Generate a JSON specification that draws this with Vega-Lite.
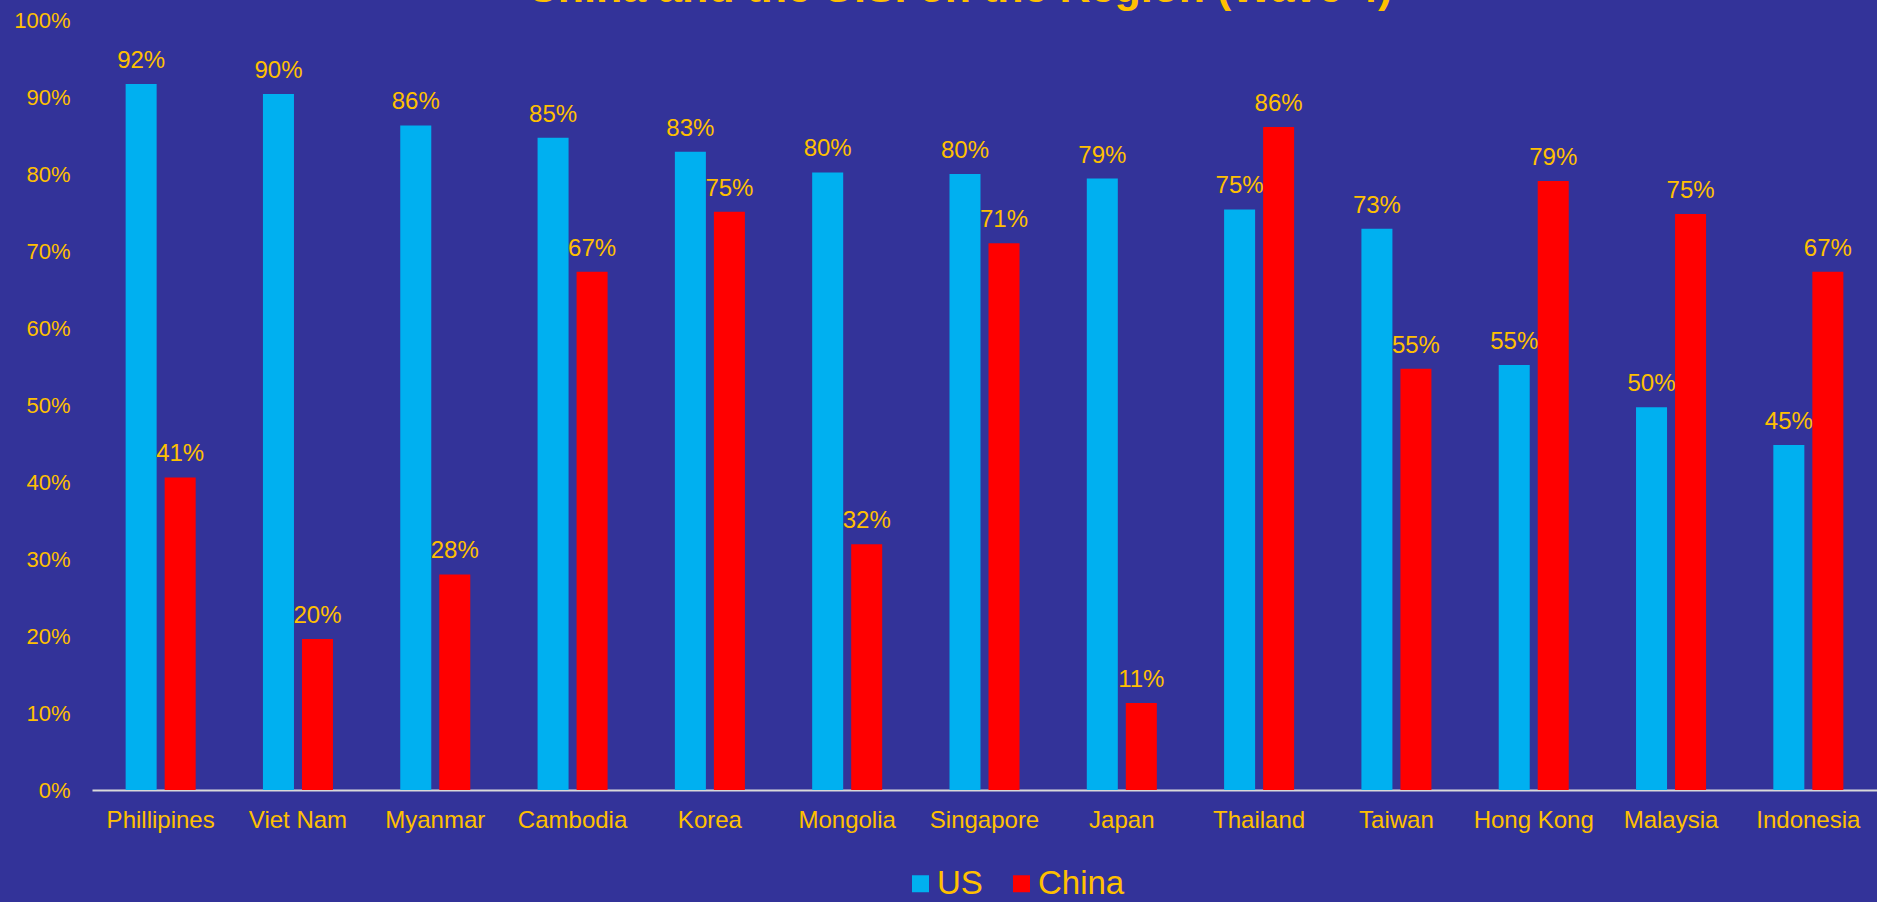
{
  "$schema": "https://vega.github.io/schema/vega-lite/v6.json",
  "autosize": {"type": "none"},
  "width": 1785,
  "height": 770,
  "padding": {"left": 92, "top": 20, "right": 0, "bottom": 112},
  "background": "#333399",
  "title": {"text": "China and the U.S. on the Region (Wave 4)", "color": "#FFC000", "fontSize": 43, "font": "Liberation Sans", "fontWeight": "bold", "offset": -2, "anchor": "middle", "dx": -25},
  "config": {"view": {"stroke": null}, "font": "Liberation Sans"},
  "data": {"values": [
    {"region": "Phillipines", "country": "US", "value": 0.917},
    {"region": "Phillipines", "country": "China", "value": 0.406},
    {"region": "Viet Nam", "country": "US", "value": 0.904},
    {"region": "Viet Nam", "country": "China", "value": 0.196},
    {"region": "Myanmar", "country": "US", "value": 0.863},
    {"region": "Myanmar", "country": "China", "value": 0.28},
    {"region": "Cambodia", "country": "US", "value": 0.847},
    {"region": "Cambodia", "country": "China", "value": 0.673},
    {"region": "Korea", "country": "US", "value": 0.829},
    {"region": "Korea", "country": "China", "value": 0.751},
    {"region": "Mongolia", "country": "US", "value": 0.802},
    {"region": "Mongolia", "country": "China", "value": 0.319},
    {"region": "Singapore", "country": "US", "value": 0.8},
    {"region": "Singapore", "country": "China", "value": 0.71},
    {"region": "Japan", "country": "US", "value": 0.794},
    {"region": "Japan", "country": "China", "value": 0.113},
    {"region": "Thailand", "country": "US", "value": 0.754},
    {"region": "Thailand", "country": "China", "value": 0.861},
    {"region": "Taiwan", "country": "US", "value": 0.729},
    {"region": "Taiwan", "country": "China", "value": 0.547},
    {"region": "Hong Kong", "country": "US", "value": 0.552},
    {"region": "Hong Kong", "country": "China", "value": 0.791},
    {"region": "Malaysia", "country": "US", "value": 0.497},
    {"region": "Malaysia", "country": "China", "value": 0.748},
    {"region": "Indonesia", "country": "US", "value": 0.448},
    {"region": "Indonesia", "country": "China", "value": 0.673}
  ]},
  "encoding": {
    "x": {"field": "region", "type": "nominal", "sort": null,
      "scale": {"paddingInner": 0.49, "paddingOuter": 0.245},
      "axis": {"title": null, "labelAngle": 0, "labelFontSize": 24, "labelColor": "#FFC000", "labelPadding": 18, "ticks": false, "domainColor": "#D9D9D9", "domainWidth": 2, "grid": false}},
    "xOffset": {"field": "country", "type": "nominal", "sort": ["US", "China"], "scale": {"paddingInner": 0.205, "paddingOuter": 0}},
    "y": {"field": "value", "type": "quantitative", "scale": {"domain": [0, 1]},
      "axis": {"title": null, "format": ".0%", "values": [0, 0.1, 0.2, 0.3, 0.4, 0.5, 0.6, 0.7, 0.8, 0.9, 1], "domain": false, "ticks": false, "grid": false, "labelFontSize": 22, "labelColor": "#FFC000", "labelPadding": 22}}
  },
  "layer": [
    {"mark": {"type": "bar"},
     "encoding": {"color": {"field": "country", "type": "nominal",
       "scale": {"domain": ["US", "China"], "range": ["#00B0F0", "#FF0000"]},
       "legend": {"title": null, "orient": "none", "legendX": 812, "legendY": 847, "direction": "horizontal", "labelFontSize": 33, "labelColor": "#FFC000", "symbolType": "square", "symbolSize": 289, "symbolStrokeWidth": 0, "labelOffset": 0, "columnPadding": 22}}}},
    {"mark": {"type": "text", "baseline": "bottom", "dy": -11, "fontSize": 24, "color": "#FFC000"},
     "encoding": {"text": {"field": "value", "type": "quantitative", "format": ".0%"}}}
  ]
}
